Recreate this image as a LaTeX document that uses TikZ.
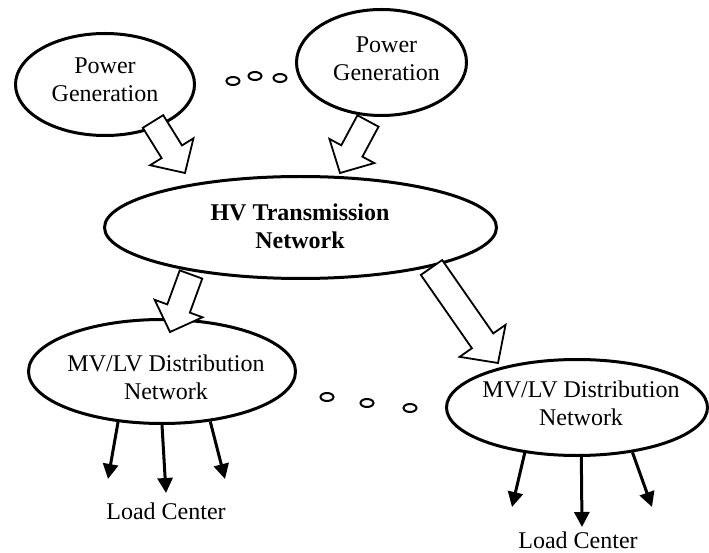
\documentclass[tikz,border=0pt]{standalone}
\usepackage{fontspec}
\setmainfont{Liberation Serif}
\usetikzlibrary{calc,arrows.meta,shapes.geometric}
\tikzset{
  ell/.style={draw, ellipse, line width=3pt, inner sep=0pt, fill=white},
  lbl/.style={inner sep=0pt, align=center, font=\fontsize{24}{28}\selectfont},
  dotc/.style={draw, ellipse, line width=2pt, minimum width=13pt, minimum height=8pt, inner sep=0pt},
  blk/.style={draw, line width=1.8pt, fill=white, line join=miter},
  ld/.style={line width=3pt, -{Triangle[length=15pt,width=15pt]}},
}
% #1 tail, #2 tip, #3 name, #4 shaft half width, #5 head half width, #6 head length
\newcommand{\blockarr}[6]{%
  \coordinate (#3h) at ($(#2)!#6!(#1)$);
  \draw[blk] ($(#1)!#4!90:(#2)$) -- ($(#3h)!#4!90:(#2)$) -- ($(#3h)!#5!90:(#2)$)
    -- (#2) -- ($(#3h)!#5!-90:(#2)$) -- ($(#3h)!#4!-90:(#2)$) -- ($(#1)!#4!-90:(#2)$) -- cycle;
}
\begin{document}
\begin{tikzpicture}[x=1pt,y=-1pt]
\useasboundingbox (0,0) rectangle (709,553);

% ellipses
\node[ell, minimum width=179pt, minimum height=102pt] (pg1) at (105,84.5) {};
\node[ell, minimum width=170pt, minimum height=106pt] (pg2) at (381.5,62.5) {};
\node[ell, minimum width=392pt, minimum height=102pt] (hv) at (300.5,227.5) {};
\node[ell, minimum width=267pt, minimum height=104pt] (mv1) at (162,371.5) {};
\node[ell, minimum width=261pt, minimum height=96pt] (mv2) at (577,407.5) {};

% small circles
\node[dotc] (d1) at (233,81) {};
\node[dotc] (d2) at (255,76) {};
\node[dotc] (d3) at (280,78) {};
\node[dotc] (d4) at (327,397) {};
\node[dotc] (d5) at (367,403) {};
\node[dotc] (d6) at (410,408) {};

% block arrows
\coordinate (a1s) at (153,121.5);
\coordinate (a1e) at (185,173);
\coordinate (a2s) at (368,121);
\coordinate (a2e) at (340,173);
\coordinate (a3s) at (191,274.5);
\coordinate (a3e) at (170,332);
\coordinate (a4s) at (431.5,267.5);
\coordinate (a4e) at (498,363);
\blockarr{a1s}{a1e}{b1}{12pt}{25.5pt}{25pt}
\blockarr{a2s}{a2e}{b2}{12pt}{25.5pt}{25pt}
\blockarr{a3s}{a3e}{b3}{12pt}{25.5pt}{25pt}
\blockarr{a4s}{a4e}{b4}{13pt}{28pt}{27pt}

% load arrows
\coordinate (l1) at (108,479);
\coordinate (l2) at (166,493);
\coordinate (l3) at (225,479);
\coordinate (l4) at (512,507);
\coordinate (l5) at (582,527);
\coordinate (l6) at (652,507);
\draw[ld] (mv1.-131) -- (l1);
\draw[ld] (mv1.-90) -- (l2);
\draw[ld] (mv1.-46) -- (l3);
\draw[ld] (mv2.-139) -- (l4);
\draw[ld] (mv2.-85) -- (l5);
\draw[ld] (mv2.-39) -- (l6);

% texts
\node[lbl] (pg1t) at (105,79.5) {Power\\Generation};
\node[lbl] (pg2t) at (386.5,59) {Power\\Generation};
\node[lbl, font=\fontsize{24}{28}\selectfont\bfseries] (hvt) at (300,226.5) {HV Transmission\\Network};
\node[lbl] (mv1t) at (166,377.5) {MV/LV Distribution\\Network};
\node[lbl] (mv2t) at (581,403.5) {MV/LV Distribution\\Network};
\node[lbl] (lc1) at (166,511) {Load Center};
\node[lbl] (lc2) at (578,540) {Load Center};
\end{tikzpicture}
\end{document}
